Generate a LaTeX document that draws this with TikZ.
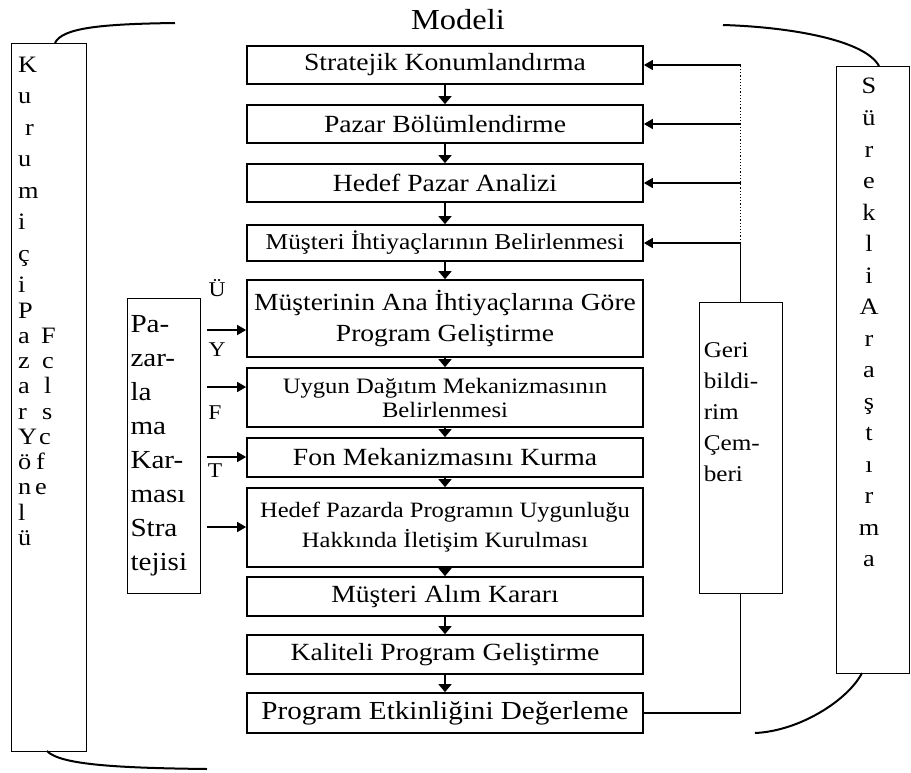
\documentclass[tikz,border=0pt]{standalone}
\usepackage{fontspec}
\setmainfont{Liberation Serif}[FakeStretch=1.12]
\usetikzlibrary{positioning,arrows.meta}
\newcommand{\fsz}[2]{\fontsize{#1}{#2}\selectfont}

\begin{document}
\begin{tikzpicture}[
  x=1pt, y=-1pt,
  >={Triangle[width=10pt,length=9pt]},
  stage/.style={draw, line width=1.7pt, minimum width=396pt, align=center, inner sep=2pt},
  side/.style={draw, line width=0.9pt, inner sep=3pt},
  letter/.style={inner sep=0pt, text height=16pt, text depth=5pt, font=\fsz{23.5}{23.5}},
  flow/.style={->, line width=1.4pt},
  down/.style={->, line width=1.4pt, >={Triangle[width=13pt,length=8pt]}},
  brace/.style={line width=2pt},
]
\useasboundingbox (0,0) rectangle (911,772);

% ---- title ----
\node[font=\fsz{29}{29}] (title) at (458,20) {Modeli};

% ---- process column ----
\node[stage, minimum height=38pt, font=\fsz{24.7}{24.7}] (B1) at (445,65) {Stratejik Konumlandırma};
\node[stage, minimum height=38pt, font=\fsz{24.7}{24.7}] (B2) at (445,124) {Pazar Bölümlendirme};
\node[stage, minimum height=38pt, font=\fsz{24.7}{24.7}] (B3) at (445,183) {Hedef Pazar Analizi};
\node[stage, minimum height=36pt, font=\fsz{22.7}{22.7}] (B4) at (445,243) {Müşteri İhtiyaçlarının Belirlenmesi};
\node[stage, minimum height=77pt, font=\fsz{24.6}{31}] (B5) at (445,318.5) {Müşterinin Ana İhtiyaçlarına Göre\\Program Geliştirme};
\node[stage, minimum height=59pt, font=\fsz{22}{24}] (B6) at (445,397.5) {Uygun Dağıtım Mekanizmasının\\Belirlenmesi};
\node[stage, minimum height=39pt, font=\fsz{24.7}{24.7}] (B7) at (445,457.5) {Fon Mekanizmasını Kurma};
\node[stage, minimum height=79pt, font=\fsz{21.9}{30}] (B8) at (445,527.5) {Hedef Pazarda Programın Uygunluğu\\Hakkında İletişim Kurulması};
\node[stage, minimum height=39pt, font=\fsz{24.7}{24.7}] (B9) at (445,596.5) {Müşteri Alım Kararı};
\node[stage, minimum height=39pt, font=\fsz{24.7}{24.7}] (B10) at (445,654.5) {Kaliteli Program Geliştirme};
\node[stage, minimum height=40pt, font=\fsz{26}{26}] (B11) at (445,713) {Program Etkinliğini Değerleme};

\foreach \a/\b in {B1/B2,B2/B3,B3/B4,B4/B5,B5/B6,B6/B7,B7/B8,B8/B9,B9/B10,B10/B11}
  \draw[down] (\a) -- (\b);

% ---- left: kurum ici pazar yonlu ----
\node[side, minimum width=75pt, minimum height=708pt] (KIP) at (48.5,397) {};
\foreach \ch/\xx/\yy [count=\i] in {K/18/67, u/18/98, r/25/130, u/18/161, m/18/193, i/18/224, ç/18/256, i/18/287, P/18/313, a/18/338, z/18/363, a/18/388, r/18/414, Y/18/439, ö/18/464, n/18/489, l/18/515, ü/18/540}
  \node[letter, anchor=west] (kip\i) at (\xx,\yy) {\ch};
\foreach \ch/\xx/\yy [count=\i] in {F/41/338, c/42/363, l/44/388, s/42/414, c/39/439, f/36/464, e/35/489}
  \node[letter, anchor=west] (fel\i) at (\xx,\yy) {\ch};

% ---- pazarlama karmasi ----
\node[side, minimum width=73pt, minimum height=295pt, text width=66pt, align=left, font=\fsz{26}{34}] (PKS) at (163.5,445.5)
  {Pa-\\zar-\\la\\ma\\Kar-\\ması\\Stra\\tejisi};

\node[font=\fsz{21}{21}] (lU) at (217,288) {Ü};
\node[font=\fsz{21}{21}] (lY) at (217,350) {Y};
\node[font=\fsz{21}{21}] (lF) at (215,413) {F};
\node[font=\fsz{21}{21}] (lT) at (215,471) {T};

\coordinate (p5) at (207,330);
\coordinate (p6) at (207,387);
\coordinate (p7) at (207,457);
\coordinate (p8) at (207,527);
\draw[flow] (p5) -- (p5 -| B5.west);
\draw[flow] (p6) -- (p6 -| B6.west);
\draw[flow] (p7) -- (p7 -| B7.west);
\draw[flow] (p8) -- (p8 -| B8.west);

% ---- feedback loop ----
\node[side, minimum width=83pt, minimum height=291pt] (GBC) at (740.5,447.5) {};
\node[below right=41pt and 5pt of GBC.north west, inner sep=0pt, align=left, font=\fsz{22.5}{31}] (GBCtxt)
  {Geri\\bildi-\\rim\\Çem-\\beri};

\draw[line width=1.4pt] (GBC.north) -- (GBC.north |- B4.east);
\draw[dotted, line width=1.2pt] (GBC.north |- B4.east) -- (GBC.north |- B1.east);
\foreach \b in {B1,B2,B3,B4}
  \draw[flow] (GBC.north |- \b.east) -- (\b.east);
\draw[line width=1.4pt] (GBC.south) |- (B11.east);

% ---- right: surekli arastirma ----
\node[side, minimum width=73pt, minimum height=607pt] (SA) at (873,369.5) {};
\foreach \ch/\yy [count=\i] in {S/88, ü/120, r/152, e/183, k/215, l/246, i/278, A/309, r/341, a/372, ş/404, t/435, ı/467, r/498, m/530, a/561}
  \node[letter] (sa\i) at (869,\yy) {\ch};

% ---- braces ----
\draw[brace] (55,43) .. controls (62,28) and (100,24) .. (175,23);
\draw[brace] (723,25) .. controls (790,27) and (865,40) .. (879,66);
\draw[brace] (47,751) .. controls (60,765) and (120,768) .. (207,769);
\draw[brace] (862,673) .. controls (848,700) and (800,731) .. (755,733);

\end{tikzpicture}
\end{document}
